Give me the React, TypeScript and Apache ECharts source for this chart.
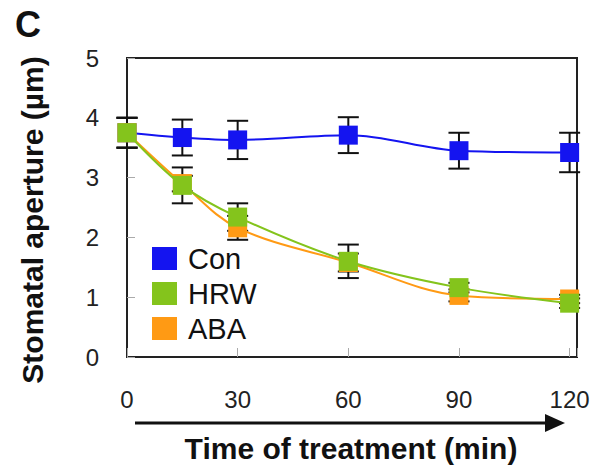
import React, { useEffect, useRef } from "react";
import * as echarts from "echarts";

const times = [0, 15, 30, 60, 90, 120];
const conMean = [3.75, 3.67, 3.63, 3.71, 3.45, 3.42];
const conErr = [0.25, 0.3, 0.32, 0.3, 0.3, 0.33];
const hrwMean = [3.75, 2.87, 2.34, 1.6, 1.16, 0.9];
const hrwErr = [0.25, 0.3, 0.23, 0.28, 0.08, 0.08];
const abaMean = [3.75, 2.9, 2.16, 1.58, 1.03, 0.97];
const abaErr = [0.25, 0.13, 0.2, 0.15, 0.1, 0.07];
const xTicks = [0, 30, 60, 90, 120];
const yTicks = [0, 1, 2, 3, 4, 5];

const FONT = "Liberation Sans, Arial, sans-serif";
const BLUE = "#1414F0";
const GREEN = "#84C41C";
const ORANGE = "#FF9A14";

const pairs = (m: number[]) => times.map((t, i) => [t, m[i]]);
const triples = (m: number[], e: number[]) => times.map((t, i) => [t, m[i], e[i]]);

function errRender(params: any, api: any) {
  const x = api.value(0);
  const y = api.value(1);
  const e = api.value(2);
  const top = api.coord([x, y + e]);
  const bot = api.coord([x, y - e]);
  const hw = 10.5;
  const st = { stroke: "#111", lineWidth: 2 };
  return {
    type: "group",
    children: [
      { type: "line", shape: { x1: top[0], y1: top[1], x2: bot[0], y2: bot[1] }, style: st },
      { type: "line", shape: { x1: top[0] - hw, y1: top[1], x2: top[0] + hw, y2: top[1] }, style: st },
      { type: "line", shape: { x1: bot[0] - hw, y1: bot[1], x2: bot[0] + hw, y2: bot[1] }, style: st },
    ],
  };
}

export default function App() {
  const ref = useRef<HTMLDivElement>(null);
  useEffect(() => {
    if (!ref.current) return;
    const chart = echarts.init(ref.current, null, { renderer: "svg" });
    const lineSeries = (name: string, data: number[], color: string, z: number) => ({
      name,
      type: "line",
      data: pairs(data),
      smooth: 0.35,
      symbol: "rect",
      symbolSize: 19,
      z,
      lineStyle: { color, width: 2 },
      itemStyle: { color },
    });
    const errSeries = (m: number[], e: number[]) => ({
      type: "custom",
      renderItem: errRender,
      data: triples(m, e),
      z: 1,
      clip: false,
    });
    chart.setOption({
      animation: false,
      textStyle: { fontFamily: FONT },
      grid: {
        left: 127,
        top: 58,
        right: 20,
        bottom: 117,
        show: true,
        borderColor: "#222",
        borderWidth: 2,
        containLabel: false,
      },
      xAxis: {
        type: "value",
        min: 0,
        max: 122,
        interval: 30,
        axisLine: { show: true, lineStyle: { color: "#222", width: 2 } },
        axisTick: { show: true, inside: true, length: 9, lineStyle: { color: "#aaa", width: 1 } },
        splitLine: { show: false },
        axisLabel: {
          margin: 30,
          fontSize: 24,
          color: "#222",
          fontFamily: FONT,
          showMaxLabel: true,
          formatter: (v: number) => (xTicks.indexOf(v) >= 0 ? String(v) : ""),
        },
      },
      yAxis: {
        type: "value",
        min: 0,
        max: 5,
        interval: 1,
        axisLine: { show: true, lineStyle: { color: "#222", width: 2 } },
        axisTick: { show: true, inside: true, length: 8, lineStyle: { color: "#aaa", width: 1 } },
        splitLine: { show: false },
        axisLabel: {
          margin: 28,
          fontSize: 24,
          color: "#222",
          fontFamily: FONT,
          formatter: (v: number) => (yTicks.indexOf(v) >= 0 ? String(v) : ""),
        },
      },
      legend: {
        data: ["Con", "HRW", "ABA"],
        orient: "vertical",
        left: 147,
        top: 239,
        icon: "rect",
        itemWidth: 25,
        itemHeight: 23,
        itemGap: 6,
        textStyle: { fontSize: 29, color: "#111", fontFamily: FONT, padding: [0, 0, 0, 6] },
      },
      graphic: [
        {
          type: "text",
          x: 28,
          y: 24,
          style: { text: "C", fontSize: 36, fontWeight: "bold", fill: "#111", fontFamily: FONT, textAlign: "center", textVerticalAlign: "middle" },
        },
        {
          type: "text",
          x: 32,
          y: 220,
          rotation: Math.PI / 2,
          style: { text: "Stomatal aperture (µm)", fontSize: 30, fontWeight: "bold", fill: "#111", fontFamily: FONT, textAlign: "center", textVerticalAlign: "middle" },
        },
        {
          type: "text",
          x: 351,
          y: 448,
          style: { text: "Time of treatment (min)", fontSize: 30, fontWeight: "bold", fill: "#111", fontFamily: FONT, textAlign: "center", textVerticalAlign: "middle" },
        },
        {
          type: "line",
          shape: { x1: 135, y1: 423, x2: 548, y2: 423 },
          style: { stroke: "#111", lineWidth: 3 },
        },
        {
          type: "polygon",
          shape: { points: [[545, 414], [565, 423], [545, 432]] },
          style: { fill: "#111" },
        },
      ],
      series: [
        errSeries(conMean, conErr),
        errSeries(abaMean, abaErr),
        errSeries(hrwMean, hrwErr),
        lineSeries("Con", conMean, BLUE, 3),
        lineSeries("ABA", abaMean, ORANGE, 4),
        lineSeries("HRW", hrwMean, GREEN, 5),
      ],
    });
    return () => chart.dispose();
  }, []);
  return <div ref={ref} style={{ width: 597, height: 474, position: "absolute", left: 0, top: 0 }} />;
}
